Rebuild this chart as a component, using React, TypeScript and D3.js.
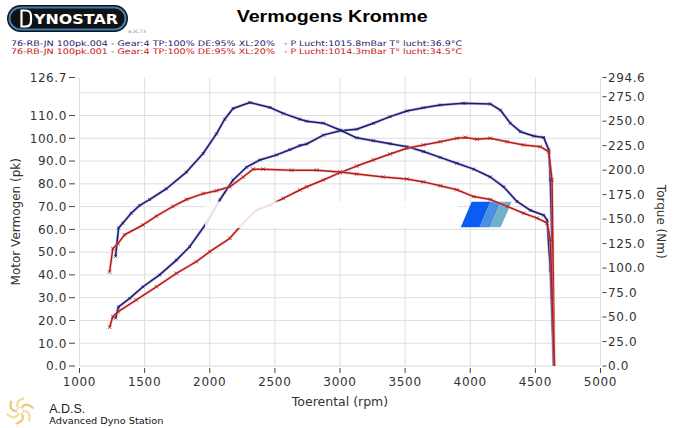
import React from "react";
import * as d3 from "d3";

// ---------- data ----------
const rpmTicks = [1000, 1500, 2000, 2500, 3000, 3500, 4000, 4500, 5000];
const powerTickLabels = [0, 10, 20, 30, 40, 50, 60, 70, 80, 90, 100, 110, 126.7];
const powerGridValues = [0, 10, 20, 30, 40, 50, 60, 70, 80, 90, 100, 110, 120];
const torqueTickLabels = [0, 25, 50, 75, 100, 125, 150, 175, 200, 225, 250, 275, 294.6];

const bluePowerRpm = [1277, 1300, 1385, 1487, 1615, 1744, 1846, 1974, 2077, 2179, 2282, 2385, 2513, 2615, 2692, 2744, 2872, 3000, 3128, 3256, 3385, 3513, 3641, 3769, 3949, 4154, 4231, 4308, 4385, 4487, 4564, 4603, 4615, 4628, 4641];
const bluePowerPk = [21, 26, 29.7, 34.8, 40, 46.5, 52.4, 62.7, 72.9, 81.7, 87.3, 90.5, 92.7, 95, 96.8, 97.5, 101.4, 103.3, 104, 106.6, 109.5, 112, 113.4, 114.6, 115.4, 115.1, 112.4, 106.6, 102.9, 101, 100.4, 94.9, 81.7, 52.4, 0];

const blueTorqueRpm = [1277, 1300, 1333, 1397, 1462, 1538, 1667, 1821, 1949, 2051, 2115, 2179, 2308, 2462, 2564, 2692, 2744, 2872, 3000, 3128, 3256, 3385, 3513, 3641, 3769, 3897, 4026, 4154, 4256, 4359, 4462, 4564, 4590, 4615, 4641];
const blueTorqueNm = [112, 141, 146, 156, 164, 170, 181, 198, 217, 237, 252, 263, 269, 264, 258, 252, 250, 248, 241, 233, 230, 227, 224, 219, 213, 207, 201, 193, 183, 168, 159, 154, 149, 98, 0];

const redPowerRpm = [1231, 1256, 1295, 1436, 1590, 1744, 1897, 2000, 2154, 2256, 2359, 2462, 2564, 2692, 2744, 2872, 3000, 3128, 3256, 3385, 3513, 3641, 3769, 3897, 3962, 4051, 4154, 4282, 4410, 4538, 4603, 4628, 4646];
const redPowerPk = [17, 21.7, 23.8, 29, 34.8, 40.7, 45.8, 50.2, 56.1, 62.7, 68.5, 70.7, 73.6, 77.3, 78.7, 81.7, 84.9, 87.8, 90.5, 93.1, 95.6, 97.1, 98.5, 100, 100.4, 99.6, 100, 98.5, 97.1, 96.3, 94.1, 81.7, 0];

const redTorqueRpm = [1231, 1256, 1295, 1346, 1487, 1590, 1718, 1821, 1949, 2051, 2154, 2256, 2333, 2410, 2628, 2821, 3000, 3128, 3333, 3513, 3641, 3769, 3897, 4026, 4154, 4282, 4410, 4513, 4590, 4615, 4646];
const redTorqueNm = [96, 120, 125, 134, 144, 153, 163, 170, 176, 179, 183, 193, 201, 201, 200, 200, 198, 196, 193, 191, 188, 184, 180, 173, 170, 163, 156, 151, 146, 129, 0];

const titleText = "Vermogens Kromme";
const legendBlue = ["76-RB-JN 100pk.004 - Gear:4 TP:100% DE:95% XL:20%", "- P Lucht:1015.8mBar T° lucht:36.9°C"];
const legendRed = ["76-RB-JN 100pk.001 - Gear:4 TP:100% DE:95% XL:20%", "- P Lucht:1014.3mBar T° lucht:34.5°C"];

// ---------- layout ----------
const W = 685;
const H = 428;
const X0 = 79.5;
const X1 = 600.5;
const YB = 366;
const YT = 77.5;

const BLUE = "#1b1b74";
const RED = "#b41c1c";

const FONT = "'DejaVu Sans', Verdana, sans-serif";

export default function App() {
  const x = d3.scaleLinear().domain([1000, 5000]).range([X0, X1]);
  const yL = d3.scaleLinear().domain([0, 126.7]).range([YB, YT]);
  const yR = d3.scaleLinear().domain([0, 294.6]).range([YB, YT]);
  const f1 = d3.format(".1f");

  const zip = (a: number[], b: number[]) => a.map((v, i) => [v, b[i]] as [number, number]);

  const series = [
    { pts: zip(bluePowerRpm, bluePowerPk), y: yL, color: BLUE, halo: "#9494c8", mk: 1.5 },
    { pts: zip(blueTorqueRpm, blueTorqueNm), y: yR, color: BLUE, halo: "#9494c8", mk: 1.5 },
    { pts: zip(redPowerRpm, redPowerPk), y: yL, color: RED, halo: "#f2a8a8", mk: 1.8 },
    { pts: zip(redTorqueRpm, redTorqueNm), y: yR, color: RED, halo: "#f2a8a8", mk: 1.8 },
  ];

  // blue watermark parallelogram
  const py0 = 201.7;
  const py1 = 227.3;
  const slant = 11;
  const band = (a: number, b: number) =>
    `M${a},${py0} L${b},${py0} L${b - slant},${py1} L${a - slant},${py1} Z`;

  return (
    <svg
      width={W}
      height={H}
      viewBox={`0 0 ${W} ${H}`}
      style={{ position: "absolute", left: 0, top: 0, display: "block", background: "#fff" }}
    >
      <rect x={0} y={0} width={W} height={H} fill="#fff" />

      {/* gridlines */}
      {powerGridValues.map((v) => (
        <line key={"hg" + v} x1={X0} x2={X1} y1={yL(v)} y2={yL(v)} stroke="#dedede" strokeWidth={1} />
      ))}
      {rpmTicks.map((r) => (
        <line key={"vg" + r} x1={x(r)} x2={x(r)} y1={YT} y2={YB} stroke="#dedede" strokeWidth={1} />
      ))}

      {/* left axis */}
      {powerTickLabels.map((v) => (
        <g key={"lt" + v}>
          <line x1={69} x2={75} y1={yL(v)} y2={yL(v)} stroke="#444" strokeWidth={1} />
          <text x={67} y={yL(v) + 4.3} textAnchor="end" fontFamily={FONT} fontSize={12} letterSpacing={0.6} fill="#333">
            {f1(v)}
          </text>
        </g>
      ))}
      {/* right axis */}
      {torqueTickLabels.map((v) => (
        <g key={"rt" + v}>
          <line x1={602.5} x2={606.5} y1={yR(v)} y2={yR(v)} stroke="#444" strokeWidth={1} />
          <text x={608} y={yR(v) + 4.3} textAnchor="start" fontFamily={FONT} fontSize={12} letterSpacing={0.6} fill="#333">
            {f1(v)}
          </text>
        </g>
      ))}
      {/* bottom axis */}
      {rpmTicks.map((r) => (
        <g key={"bt" + r}>
          <line x1={x(r)} x2={x(r)} y1={368} y2={373} stroke="#444" strokeWidth={1} />
          <text x={x(r)} y={386} textAnchor="middle" fontFamily={FONT} fontSize={12} letterSpacing={0.7} fill="#333">
            {r}
          </text>
        </g>
      ))}

      {/* axis titles */}
      <text
        transform={`translate(20.2, ${(YT + YB) / 2}) rotate(-90)`}
        textAnchor="middle"
        fontFamily={FONT}
        fontSize={12}
        fill="#333"
      >
        Motor Vermogen (pk)
      </text>
      <text
        transform={`translate(657, ${(YT + YB) / 2}) rotate(90)`}
        textAnchor="middle"
        fontFamily={FONT}
        fontSize={12}
        fill="#333"
      >
        Torque (Nm)
      </text>
      <text x={340} y={406} textAnchor="middle" fontFamily={FONT} fontSize={12.5} fill="#333">
        Toerental (rpm)
      </text>

      {/* watermark shape */}
      <path d={band(471.7, 490.5)} fill="#0a5cf2" />
      <path d={band(490.5, 501)} fill="#4b8fe4" />
      <path d={band(501, 511.7)} fill="#6db1ca" />

      {/* curves */}
      {series.map((s, i) => {
        const line = d3
          .line<[number, number]>()
          .x((d) => x(d[0]))
          .y((d) => s.y(d[1]))
          .curve(d3.curveLinear);
        const dStr = line(s.pts) || "";
        return (
          <g key={"s" + i}>
            <path d={dStr} fill="none" stroke={s.halo} strokeWidth={3} strokeOpacity={0.5} strokeLinejoin="round" />
            <path d={dStr} fill="none" stroke={s.color} strokeWidth={1.5} strokeLinejoin="round" />
            {s.pts.slice(0, -1).map((d, j) => {
              const cx = x(d[0]);
              const cy = s.y(d[1]);
              const m = s.mk;
              return (
                <path
                  key={j}
                  d={`M${cx - m},${cy - m}L${cx + m},${cy + m}M${cx - m},${cy + m}L${cx + m},${cy - m}`}
                  stroke={s.color}
                  strokeWidth={0.8}
                />
              );
            })}
          </g>
        );
      })}

      {/* white watermark band */}
      <rect x={205} y={201.5} width={253} height={26.5} fill="#fff" fillOpacity={0.85} />

      {/* title */}
      <text
        x={236.7}
        y={21.7}
        fontFamily="'Liberation Sans', Arial, sans-serif"
        fontWeight="bold"
        fontSize={16.5}
        textLength={191}
        lengthAdjust="spacingAndGlyphs"
        fill="#000"
      >
        {titleText}
      </text>

      {/* legend */}
      <text x={11} y={46.3} fontFamily={FONT} fontSize={7.6} fill={BLUE} textLength={264} lengthAdjust="spacingAndGlyphs">
        {legendBlue[0]}
      </text>
      <text x={284} y={46.3} fontFamily={FONT} fontSize={7.6} fill={BLUE} textLength={178} lengthAdjust="spacingAndGlyphs">
        {legendBlue[1]}
      </text>
      <text x={11} y={53.8} fontFamily={FONT} fontSize={7.6} fill="#cc1414" textLength={264} lengthAdjust="spacingAndGlyphs">
        {legendRed[0]}
      </text>
      <text x={284} y={53.8} fontFamily={FONT} fontSize={7.6} fill="#cc1414" textLength={178} lengthAdjust="spacingAndGlyphs">
        {legendRed[1]}
      </text>

      {/* Dynostar logo */}
      <rect x={7} y={5} width={121} height={27} rx={13.5} fill="#121212" />
      <rect x={9.5} y={7.5} width={116} height={22} rx={11} fill="none" stroke="#3a7fbe" strokeWidth={2} />
      <path d="M21.5,10.5 V26.5 H25.5 Q31,26.5 31,21 V16 Q31,10.5 25.5,10.5 Z" fill="none" stroke="#fff" strokeWidth={2.2} />
      <text
        x={34}
        y={24}
        fontFamily="'DejaVu Sans', sans-serif"
        fontWeight="bold"
        fontSize={14}
        fill="#fff"
        textLength={84}
        lengthAdjust="spacingAndGlyphs"
      >
        YNOSTAR
      </text>
      <text x={128} y={33} fontFamily={FONT} fontSize={4.5} fill="#888">
        w.3C.T3
      </text>

      {/* ADS logo */}
      <g transform="translate(20,411)">
        {d3.range(6).map((i) => {
          const a0 = (i * Math.PI) / 3;
          const a1 = a0 + 0.8;
          const p0 = [5 * Math.cos(a0), 5 * Math.sin(a0)];
          const p1 = [13 * Math.cos(a1), 13 * Math.sin(a1)];
          const c = [11 * Math.cos(a0 + 0.1), 11 * Math.sin(a0 + 0.1)];
          return (
            <path
              key={i}
              d={`M${p0[0]},${p0[1]} Q${c[0]},${c[1]} ${p1[0]},${p1[1]}`}
              fill="none"
              stroke={i % 2 ? "#e9b24a" : "#f0d070"}
              strokeWidth={2.2}
              strokeOpacity={0.75}
              strokeLinecap="round"
            />
          );
        })}
        <circle r={3.5} fill="none" stroke="#f0d890" strokeWidth={1} />
      </g>
      <text x={49.3} y={412.5} fontFamily="'Liberation Sans', Arial, sans-serif" fontSize={12} fill="#222" textLength={36} lengthAdjust="spacingAndGlyphs">
        A.D.S.
      </text>
      <text x={49.3} y={424} fontFamily={FONT} fontSize={9.5} fill="#111" textLength={114} lengthAdjust="spacingAndGlyphs">
        Advanced Dyno Station
      </text>
    </svg>
  );
}
